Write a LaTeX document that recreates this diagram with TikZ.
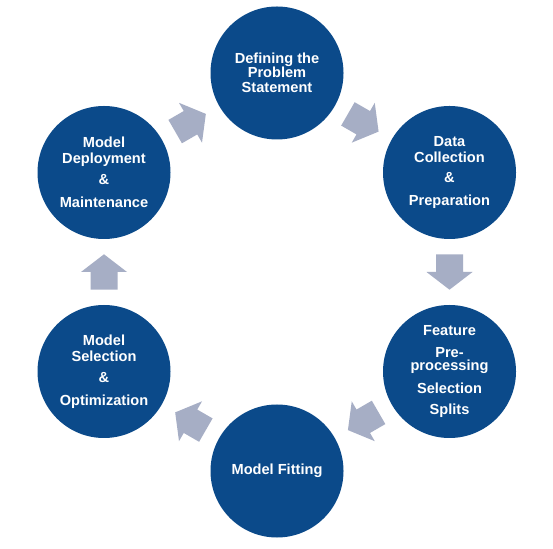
\documentclass[tikz,border=0pt]{standalone}
\usepackage{fontspec}
\setmainfont{Liberation Sans}
\usetikzlibrary{calc}
\definecolor{circblue}{RGB}{11,74,138}
\definecolor{arrowgray}{RGB}{166,174,197}
\tikzset{
  stage/.style={circle, fill=circblue, minimum size=133pt, inner sep=0pt, text=white,
    align=center, font=\bfseries\fontsize{14.6}{15.5}\selectfont},
  blockarrow/.pic={\fill[arrowgray] (-17.7,-13.5) -- (0,-13.5) -- (0,-23) -- (17.7,0) -- (0,23) -- (0,13.5) -- (-17.7,13.5) -- cycle;}
}
\begin{document}
\begin{tikzpicture}[x=1pt,y=1pt]
\useasboundingbox[fill=white] (0,0) rectangle (553,548);
\node[stage] (top) at (277,475) {Defining the\\[-1.5pt]Problem\\Statement};
\node[stage] (tr) at (449.5,375.5) {Data\\[0.5pt]Collection\\[5pt]\&\\[7.5pt]Preparation};
\node[stage] (br) at (449.5,176.5) {Feature\\[6pt]Pre-\\[-2pt]processing\\[7.5pt]Selection\\[5.5pt]Splits};
\node[stage] (bot) at (277,77) {\raisebox{-2pt}{Model Fitting}};
\node[stage] (bl) at (104,176.5) {Model\\[0.5pt]Selection\\[5pt]\&\\[7.5pt]Optimization};
\node[stage] (tl) at (104,375.5) {Model\\[0.5pt]Deployment\\[5pt]\&\\[7.5pt]Maintenance};
\pic[rotate=-30] at ($(top)!0.5!(tr)$) {blockarrow};
\pic[rotate=-90] at ($(tr)!0.5!(br)$) {blockarrow};
\pic[rotate=-150] at ($(br)!0.5!(bot)$) {blockarrow};
\pic[rotate=150] at ($(bot)!0.5!(bl)$) {blockarrow};
\pic[rotate=90] at ($(bl)!0.5!(tl)$) {blockarrow};
\pic[rotate=30] at ($(tl)!0.5!(top)$) {blockarrow};
\end{tikzpicture}
\end{document}
